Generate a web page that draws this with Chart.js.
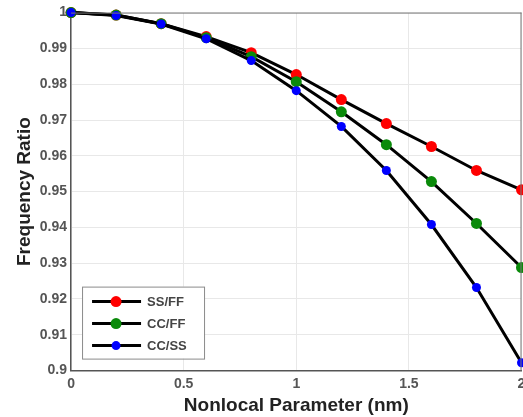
<!DOCTYPE html>
<html><head><meta charset="utf-8">
<script src="https://cdn.jsdelivr.net/npm/chart.js@4/dist/chart.umd.min.js"></script>
<style>html,body{margin:0;padding:0;background:#fff;overflow:hidden}#wrap{width:523px;height:417px;overflow:hidden}</style>
</head><body><div id="wrap"><canvas id="c" width="527" height="417"></canvas></div>
<script>
const xValues = [0, 0.2, 0.4, 0.6, 0.8, 1.0, 1.2, 1.4, 1.6, 1.8, 2.0];
const ssff = [1.0, 0.9993, 0.9969, 0.9933, 0.9888, 0.9827, 0.9757, 0.9690, 0.9626, 0.9559, 0.9505];
const ccff = [1.0, 0.9993, 0.9969, 0.9930, 0.9877, 0.9807, 0.9723, 0.9631, 0.9528, 0.9411, 0.9288];
const ccss = [1.0, 0.9992, 0.9968, 0.9927, 0.9866, 0.9782, 0.9682, 0.9559, 0.9408, 0.9232, 0.9022];
const seriesNames = ['SS/FF', 'CC/FF', 'CC/SS'];
const seriesColors = ['#ff0000', '#0a8a0a', '#0000ff'];
const xTicks = [0, 0.5, 1, 1.5, 2];

const FONT = '"Liberation Sans", Arial, sans-serif';
function mk(i, vals, r) {
  return {
    label: seriesNames[i],
    data: xValues.map((x, k) => ({x: x, y: vals[k]})),
    borderColor: '#000', borderWidth: 3, order: 2 - i,
    pointBackgroundColor: seriesColors[i], pointBorderColor: seriesColors[i],
    pointRadius: r, pointBorderWidth: 0, tension: 0, clip: false
  };
}
const legendPlugin = {
  id: 'boxLegend',
  afterDatasetsDraw(chart) {
    const ctx = chart.ctx, a = chart.chartArea;
    const x0 = a.left + 11, y0 = a.bottom - 84, w = 122, h = 72;
    ctx.save();
    ctx.fillStyle = '#fff'; ctx.fillRect(x0, y0, w, h);
    ctx.strokeStyle = '#8a8a8a'; ctx.lineWidth = 1;
    ctx.strokeRect(x0 + 0.5, y0 + 0.5, w, h);
    seriesNames.forEach((name, i) => {
      const ds = chart.data.datasets[i];
      const y = y0 + 15 + i * 22;
      ctx.strokeStyle = '#000'; ctx.lineWidth = 3;
      ctx.beginPath(); ctx.moveTo(x0 + 10, y); ctx.lineTo(x0 + 59, y); ctx.stroke();
      ctx.fillStyle = seriesColors[i];
      ctx.beginPath(); ctx.arc(x0 + 34, y, ds.pointRadius, 0, Math.PI * 2); ctx.fill();
      ctx.fillStyle = '#444'; ctx.font = 'bold 13px ' + FONT;
      ctx.textBaseline = 'middle'; ctx.textAlign = 'left';
      ctx.fillText(name, x0 + 65, y + 1);
    });
    ctx.restore();
  }
};
new Chart(document.getElementById('c'), {
  type: 'line',
  data: { datasets: [mk(0, ssff, 5.5), mk(1, ccff, 5.5), mk(2, ccss, 4.5)] },
  options: {
    responsive: false, animation: false,
    layout: { padding: { top: 12.6, right: 0, left: 13, bottom: 0 } },
    plugins: { legend: { display: false }, tooltip: { enabled: false } },
    scales: {
      x: {
        type: 'linear', min: 0, max: 2,
        afterBuildTicks: s => { s.ticks = xTicks.map(v => ({value: v})); },
        afterFit: s => { s.paddingRight = 0; s.paddingLeft = 0; },
        ticks: { color: '#555', font: { family: FONT, size: 14, weight: 'bold' }, padding: 5.4, maxRotation: 0,
          callback: v => String(v) },
        grid: { color: '#e8e8e8', drawTicks: false },
        border: { color: '#555', width: 1.5 },
        title: { display: true, text: 'Nonlocal Parameter (nm)', color: '#222',
          font: { family: FONT, size: 19, weight: 'bold' }, padding: { top: -4, bottom: 0 } }
      },
      y: {
        min: 0.9, max: 1.0,
        ticks: { stepSize: 0.01, color: '#555', font: { family: FONT, size: 14, weight: 'bold' }, padding: 4,
          callback: v => String(parseFloat(v.toFixed(2))) },
        grid: { color: '#e8e8e8', drawTicks: false },
        border: { color: '#555', width: 1.5 },
        title: { display: true, text: 'Frequency Ratio', color: '#222',
          font: { family: FONT, size: 19, weight: 'bold' }, padding: { top: 0, bottom: 0 } }
      }
    }
  },
  plugins: [legendPlugin, {
    id: 'frame',
    afterDraw(chart) {
      const ctx = chart.ctx, a = chart.chartArea;
      ctx.save(); ctx.strokeStyle = '#777'; ctx.lineWidth = 1;
      ctx.beginPath(); ctx.moveTo(a.left, a.top + 0.5); ctx.lineTo(a.right, a.top + 0.5);
      ctx.moveTo(a.right - 0.5, a.top); ctx.lineTo(a.right - 0.5, a.bottom); ctx.stroke();
      ctx.restore();
    }
  }]
});
</script></body></html>
